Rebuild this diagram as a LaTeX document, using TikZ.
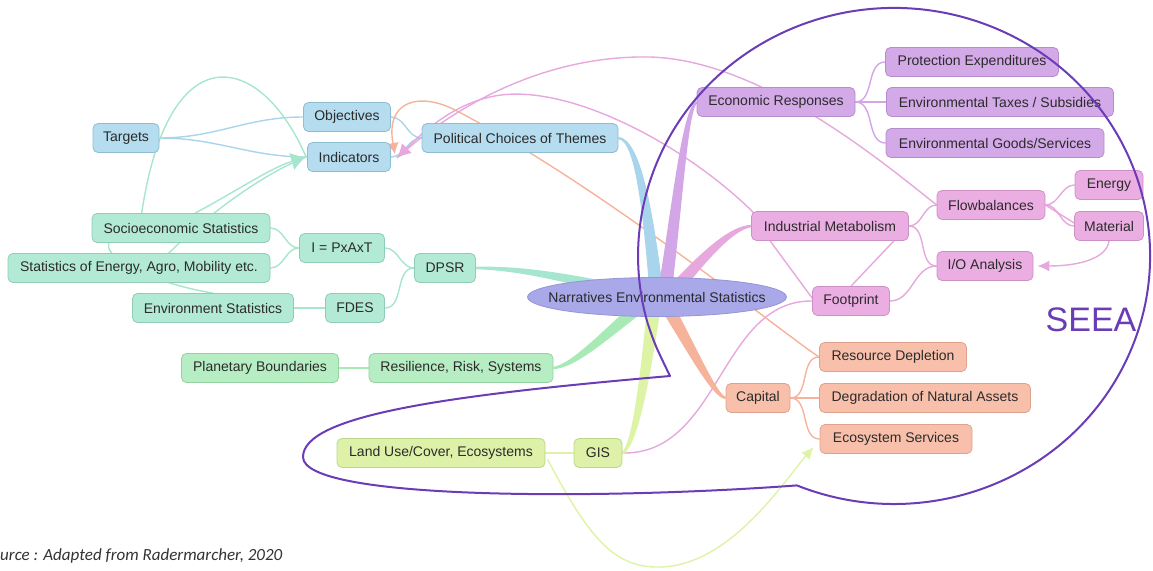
\documentclass[tikz,border=0pt]{standalone}
\usepackage{fontspec}
\setmainfont{Liberation Sans}
\newfontfamily\srcfont{Carlito}
\usetikzlibrary{calc,arrows.meta,shapes.geometric}
\pgfdeclarelayer{bg}
\pgfsetlayers{bg,main}

\definecolor{bluefill}{HTML}{B5DCEF}\definecolor{bluedraw}{HTML}{8FBDD4}\definecolor{blueline}{HTML}{A9D5EC}
\definecolor{tealfill}{HTML}{B3EAD5}\definecolor{tealdraw}{HTML}{8FCDB4}\definecolor{tealline}{HTML}{A6E6CE}
\definecolor{grnfill}{HTML}{B7EDC2}\definecolor{grndraw}{HTML}{93D2A1}\definecolor{grnline}{HTML}{A8EAB6}
\definecolor{yelfill}{HTML}{DDF1A9}\definecolor{yeldraw}{HTML}{BED68C}\definecolor{yelline}{HTML}{DDF3A6}
\definecolor{purfill}{HTML}{D3A9E8}\definecolor{purdraw}{HTML}{B78CCE}\definecolor{purline}{HTML}{D3A6E8}
\definecolor{pinkfill}{HTML}{EAAEE2}\definecolor{pinkdraw}{HTML}{CE91C5}\definecolor{pinkline}{HTML}{E6A8DD}
\definecolor{orfill}{HTML}{F8C0AA}\definecolor{ordraw}{HTML}{DFA38D}\definecolor{orline}{HTML}{F5B39C}
\definecolor{ellfill}{HTML}{A9A8E8}\definecolor{elldraw}{HTML}{9494D6}
\definecolor{seea}{HTML}{6A3CB6}
\definecolor{txt}{HTML}{2B2B2B}

\newcommand\band[9]{%
 \fill[#1] ($(#2)!#6!90:(#3)$) .. controls ($(#3)!#7!90:(#4)$) and ($(#4)!#8!90:(#5)$) .. ($(#5)!#9!-90:(#4)$)
 -- ($(#5)!#9!90:(#4)$) .. controls ($(#4)!#8!-90:(#5)$) and ($(#3)!#7!-90:(#4)$) .. ($(#2)!#6!-90:(#3)$) -- cycle;}

\tikzset{
 box/.style={rounded corners=5pt, minimum height=29pt, inner xsep=5pt, inner ysep=0pt,
   font=\fontsize{14}{16}\selectfont, text=txt, line width=0.8pt},
 bluebox/.style={box, fill=bluefill, draw=bluedraw},
 tealbox/.style={box, fill=tealfill, draw=tealdraw},
 grnbox/.style={box, fill=grnfill, draw=grndraw},
 yelbox/.style={box, fill=yelfill, draw=yeldraw},
 purbox/.style={box, fill=purfill, draw=purdraw},
 pinkbox/.style={box, fill=pinkfill, draw=pinkdraw},
 orbox/.style={box, fill=orfill, draw=ordraw},
 conn/.style={line width=1.4pt},
}

\begin{document}
\begin{tikzpicture}[x=1pt,y=-1pt]
\useasboundingbox (0,0) rectangle (1153,570);

% ---------- nodes ----------
\node[bluebox, minimum width=66pt] (tg) at (126,138) {Targets};
\node[bluebox, minimum width=87pt] (obj) at (347,117) {Objectives};
\node[bluebox, minimum width=83pt] (ind) at (349,157) {Indicators};
\node[bluebox, minimum width=196pt] (pol) at (520,138) {Political Choices of Themes};

\node[tealbox, minimum width=178pt] (socio) at (181,228) {Socioeconomic Statistics};
\node[tealbox, minimum width=262pt] (stats) at (139,268) {Statistics of Energy, Agro, Mobility etc.};
\node[tealbox, minimum width=85pt] (ipat) at (342,248) {I = PxAxT};
\node[tealbox, minimum width=61pt] (dpsr) at (445,268) {DPSR};
\node[tealbox, minimum width=161pt] (env) at (213,308) {Environment Statistics};
\node[tealbox, minimum width=59pt] (fdes) at (355,308) {FDES};

\node[grnbox, minimum width=157pt] (plan) at (260,368) {Planetary Boundaries};
\node[grnbox, minimum width=184pt] (resil) at (461,368) {Resilience, Risk, Systems};

\node[yelbox, minimum width=208pt] (land) at (441,453) {Land Use/Cover, Ecosystems};
\node[yelbox, minimum width=48pt] (gis) at (598,453) {GIS};

\node[ellipse, fill=ellfill, draw=elldraw, line width=0.8pt, minimum width=258pt, minimum height=39pt,
      inner xsep=-17pt, inner ysep=0pt, font=\fontsize{14}{16}\selectfont, text=txt] (nar) at (657,297) {Narratives Environmental Statistics};

\node[purbox, minimum width=158pt] (er) at (776,102) {Economic Responses};
\node[purbox, minimum width=173pt] (pe) at (972,62) {Protection Expenditures};
\node[purbox, minimum width=227pt] (et) at (1000,102) {Environmental Taxes / Subsidies};
\node[purbox, minimum width=218pt] (eg) at (995,143) {Environmental Goods/Services};

\node[pinkbox, minimum width=157pt] (im) at (830,226) {Industrial Metabolism};
\node[pinkbox, minimum width=108pt] (fb) at (991,205) {Flowbalances};
\node[pinkbox, minimum width=68pt] (energy) at (1109,185) {Energy};
\node[pinkbox, minimum width=69pt] (mat) at (1109,226) {Material};
\node[pinkbox, minimum width=96pt] (io) at (985,266) {I/O Analysis};
\node[pinkbox, minimum width=77pt] (fp) at (851,301) {Footprint};

\node[orbox, minimum width=147pt] (rd) at (893,357) {Resource Depletion};
\node[orbox, minimum width=64pt] (cap) at (758,398) {Capital};
\node[orbox, minimum width=211pt] (dna) at (925,398) {Degradation of Natural Assets};
\node[orbox, minimum width=152pt] (es) at (896,439) {Ecosystem Services};

% ---------- connectors ----------
\begin{pgfonlayer}{bg}
\coordinate (indtip) at ($(ind.west)+(-1,0)$);
\coordinate (pinktip) at ($(ind.east)+(6,1)$);

% blue
\draw[conn, blueline] (tg.east) to[out=0,in=180] (obj.west);
\draw[conn, blueline] (tg.east) to[out=0,in=180] (ind.west);
\draw[conn, blueline] (obj.east) to[out=0,in=180] (pol.west);
\draw[conn, blueline] (pol.west) to[out=180,in=0] (ind.east);

% teal
\draw[conn, tealline] (socio.east) to[out=0,in=180] (ipat.west);
\draw[conn, tealline] (stats.east) to[out=0,in=180] (ipat.west);
\draw[conn, tealline] (ipat.east) to[out=0,in=180] (dpsr.west);
\draw[conn, tealline] (fdes.east) to[out=0,in=180] (dpsr.west);
\draw[conn, tealline] (env.east) -- (fdes.west);
\draw[conn, tealline] (env.north) .. controls (150,283) and (60,245) .. (140,225) .. controls (165,30) and (260,50) .. (indtip);
\draw[conn, tealline] ($(stats.north)+(21,9)$) .. controls (200,220) and (260,175) .. (indtip);
\draw[conn, tealline, -{Latex[length=15pt,width=18pt]}] ($(socio.north)+(14,0)$) .. controls (230,195) and (270,168) .. (indtip);

% green / yellow
\draw[conn, grnline] (plan.east) -- (resil.west);
\draw[conn, yelline] (land.east) -- (gis.west);
\draw[conn, yelline, -{Latex[length=12pt,width=11pt]}] ($(land.east)+(2,6)$) .. controls (590,540) and (615,568) .. (660,567)
   .. controls (730,566) and (785,480) .. ($(es.west)+(-6,8)$);

% purple
\draw[conn, purline] (er.east) to[out=0,in=180] (pe.west);
\draw[conn, purline] (er.east) to[out=0,in=180] (et.west);
\draw[conn, purline] (er.east) to[out=0,in=180] (eg.west);

% pink
\draw[conn, pinkline] (im.east) to[out=0,in=180] (fb.west);
\draw[conn, pinkline] (im.east) to[out=0,in=180] (io.west);
\draw[conn, pinkline] (fp.east) to[out=0,in=180] (io.west);
\draw[conn, pinkline] (fb.east) to[out=0,in=180] (energy.west);
\draw[conn, pinkline] (fb.east) to[out=0,in=180] (mat.west);
\draw[conn, pinkline] (fb.east) -- ($(mat.west)+(0,-3)$);
\draw[conn, pinkline, -{Latex[length=12pt,width=11pt]}] (mat.south) .. controls (1107,258) and (1080,266) .. ($(io.east)+(4,0)$);
\draw[conn, pinkline] ($(im.south west)+(19,0)$) -- ($(fp.west)+(0,-3)$);
\draw[conn, pinkline] ($(im.south east)+(-15,0)$) -- (fp.north);
\draw[conn, pinkline] (gis.east) .. controls (720,455) and (720,300) .. (fp.west);
\draw[conn, pinkline] (fb.west) .. controls (880,160) and (760,60) .. (650,57) .. controls (540,55) and (450,110) .. (pinktip);
\draw[conn, pinkline, -{Latex[length=14pt,width=14pt]}] ($(im.north west)+(3,2)$) .. controls (680,140) and (560,80) .. (490,97)
   .. controls (450,106) and (420,135) .. (pinktip);

% orange
\draw[conn, orline] (cap.east) to[out=0,in=180] (rd.west);
\draw[conn, orline] (cap.east) to[out=0,in=180] (dna.west);
\draw[conn, orline] (cap.east) to[out=0,in=180] (es.west);
\draw[conn, orline, -{Latex[length=11pt,width=12pt]}] (rd.west) .. controls (785,335) and (600,185) .. (455,110)
   .. controls (420,92) and (385,100) .. ($(ind.east)+(4,-3)$);

% tapered bands into the central ellipse
\band{tealline}{dpsr.east}{530,268}{590,283}{650,298}{1.2pt}{3pt}{5pt}{7pt}
\band{blueline}{pol.east}{638,140}{648,210}{657,298}{1.2pt}{3pt}{5pt}{7pt}
\band{purline}{er.west}{685,110}{678,200}{664,298}{1.2pt}{3pt}{5pt}{7pt}
\band{pinkline}{im.west}{730,228}{700,260}{668,298}{1.2pt}{3pt}{5pt}{7pt}
\band{orline}{cap.west}{714,396}{690,345}{662,298}{1.2pt}{3pt}{5pt}{7pt}
\band{yelline}{gis.east}{635,445}{645,380}{655,298}{1.2pt}{3pt}{5pt}{7pt}
\band{grnline}{resil.east}{575,366}{610,330}{650,298}{1.2pt}{3pt}{5pt}{7pt}
\end{pgfonlayer}

% ---------- SEEA outline ----------
\draw[seea, line width=2pt, line join=round]
  (796.9,485.4) arc[start angle=112.3, end angle=-195.8, x radius=256, y radius=248]
  .. controls (655,345) .. (670,376)
  .. controls (450,395) and (303,415) .. (303,457)
  .. controls (303,500) and (600,500) .. (796.9,485.4);

\node[text=seea, font=\fontsize{34}{40}\selectfont, inner sep=0pt] (seeal) at (1091,320) {SEEA};

\node[anchor=base west, inner sep=0pt, font=\srcfont\itshape\fontsize{17}{20}\selectfont, text=black!80] (src) at (0,560)
  {urce : Adapted from Radermarcher, 2020};
\end{tikzpicture}
\end{document}
